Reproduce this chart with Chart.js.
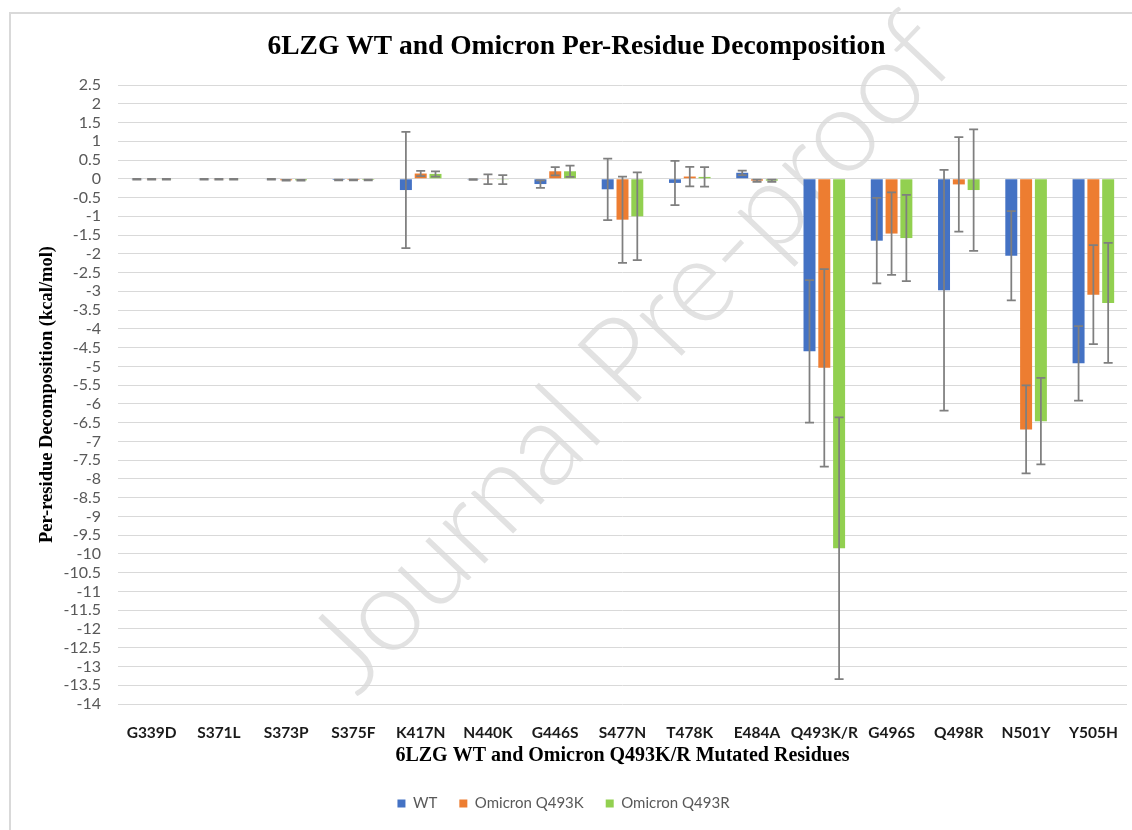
<!DOCTYPE html>
<html><head><meta charset="utf-8">
<script src="https://cdn.jsdelivr.net/npm/chart.js@4.4.1/dist/chart.umd.min.js"></script>
<style>
html,body{margin:0;padding:0;background:#fff;overflow:hidden;width:1132px;height:830px;}
#wrap{position:relative;width:1132px;height:830px;overflow:hidden;background:#fff;}
#frame{position:absolute;left:9px;top:12px;width:1200px;height:900px;border-left:2px solid #d9d9d9;border-top:2px solid #d9d9d9;}
#wm{position:absolute;left:626px;top:349px;transform:translate(-50%,-50%) rotate(-46.5deg);font-family:Lato,sans-serif;font-weight:300;font-size:117px;color:#e2e2e2;white-space:nowrap;}
canvas{position:absolute;left:0;top:0;}
</style></head>
<body><div id="wrap"><div id="frame"></div><div id="wm">Journal Pre-proof</div><canvas id="c" width="1132" height="821"></canvas></div>
<script>
const categories = ['G339D','S371L','S373P','S375F','K417N','N440K','G446S','S477N','T478K','E484A','Q493K/R','G496S','Q498R','N501Y','Y505H'];
const seriesNames = ['WT','Omicron Q493K','Omicron Q493R'];
const wtValues    = [-0.01,-0.01,-0.01,-0.03,-0.30,-0.02,-0.14,-0.28,-0.11, 0.16,-4.60,-1.65,-2.97,-2.05,-4.92];
const wtErrors    = [ 0.01, 0.01, 0.01, 0.01, 1.55, 0.01, 0.10, 0.82, 0.59, 0.06, 1.90, 1.14, 3.21, 1.19, 0.99];
const q493kValues = [-0.01,-0.01,-0.04,-0.03, 0.14,-0.01, 0.20,-1.09, 0.06,-0.05,-5.04,-1.46,-0.15,-6.68,-3.09];
const q493kErrors = [ 0.01, 0.01, 0.01, 0.01, 0.07, 0.13, 0.11, 1.15, 0.26, 0.03, 2.63, 1.10, 1.26, 1.17, 1.32];
const q493rValues = [-0.01,-0.01,-0.04,-0.03, 0.13,-0.02, 0.20,-1.00, 0.05,-0.05,-9.85,-1.58,-0.30,-6.46,-3.31];
const q493rErrors = [ 0.01, 0.01, 0.01, 0.01, 0.07, 0.12, 0.15, 1.17, 0.26, 0.03, 3.49, 1.15, 1.62, 1.15, 1.60];
const yTickValues = [2.5,2,1.5,1,0.5,0,-0.5,-1,-1.5,-2,-2.5,-3,-3.5,-4,-4.5,-5,-5.5,-6,-6.5,-7,-7.5,-8,-8.5,-9,-9.5,-10,-10.5,-11,-11.5,-12,-12.5,-13,-13.5,-14];

const errorBars = {
  id:'errorBars',
  afterDatasetsDraw(chart){
    const ctx = chart.ctx, y = chart.scales.y;
    chart.data.datasets.forEach((ds, di)=>{
      const meta = chart.getDatasetMeta(di);
      if (meta.hidden) return;
      meta.data.forEach((bar, i)=>{
        const v = ds.data[i], e = ds.errors[i];
        const yTop = y.getPixelForValue(v+e), yBot = y.getPixelForValue(v-e);
        const x = bar.x;
        ctx.save();
        ctx.strokeStyle='#7f7f7f'; ctx.lineWidth=1.75;
        ctx.beginPath();
        ctx.moveTo(x,yTop); ctx.lineTo(x,yBot);
        ctx.moveTo(x-4.5,yTop); ctx.lineTo(x+4.5,yTop);
        ctx.moveTo(x-4.5,yBot); ctx.lineTo(x+4.5,yBot);
        ctx.stroke();
        ctx.restore();
      });
    });
  }
};
const shiftTitle = {
  id:'shiftTitle',
  afterLayout(chart){
    const t = chart.titleBlock;
    if (t){ t.left += 13; t.right += 13; }
  }
};

new Chart(document.getElementById('c'), {
  type:'bar',
  data:{
    labels:categories,
    datasets:[
      {label:seriesNames[0], data:wtValues, errors:wtErrors, backgroundColor:'#4472C4'},
      {label:seriesNames[1], data:q493kValues, errors:q493kErrors, backgroundColor:'#ED7D31'},
      {label:seriesNames[2], data:q493rValues, errors:q493rErrors, backgroundColor:'#92D050'}
    ]
  },
  options:{
    responsive:false, animation:false, devicePixelRatio:1,
    layout:{padding:{left:0,right:5,top:0,bottom:0}},
    datasets:{bar:{categoryPercentage:0.66, barPercentage:0.81, borderWidth:0}},
    plugins:{
      title:{display:true, text:'6LZG WT and Omicron Per-Residue Decomposition', color:'#000',
        font:{family:'"Liberation Serif", "Times New Roman", serif', size:27.5, weight:'bold'},
        padding:{top:30,bottom:22}},
      legend:{position:'bottom', labels:{boxWidth:8, boxHeight:8, padding:22, color:'#595959',
        font:{family:'Lato, sans-serif', size:15}}},
      tooltip:{enabled:false}
    },
    scales:{
      x:{
        grid:{display:false}, border:{display:false},
        ticks:{padding:12, color:'#1a1a1a', font:{family:'Lato, sans-serif', size:15.5, weight:'bold'}, maxRotation:0, autoSkip:false},
        title:{display:true, text:'6LZG WT and Omicron Q493K/R Mutated Residues', color:'#000',
          font:{family:'"Liberation Serif", "Times New Roman", serif', size:20, weight:'bold'}, padding:{top:0,bottom:6}},
        afterFit(s){ s.height = 70; }
      },
      y:{
        min:-14, max:2.5,
        grid:{color:'#d9d9d9', lineWidth:1, drawTicks:false}, border:{display:false},
        afterBuildTicks(s){ s.ticks = yTickValues.map(v=>({value:v})); },
        ticks:{padding:17, color:'#595959', autoSkip:false, font:{family:'Lato, sans-serif', size:16},
          callback:(v)=>String(v)},
        title:{display:true, text:'Per-residue Decomposition (kcal/mol)', color:'#000',
          font:{family:'"Liberation Serif", "Times New Roman", serif', size:18.5, weight:'bold'}, padding:{top:36,bottom:0}},
        afterFit(s){ s.width = 118; }
      }
    }
  },
  plugins:[errorBars, shiftTitle]
});
</script>
</body></html>
